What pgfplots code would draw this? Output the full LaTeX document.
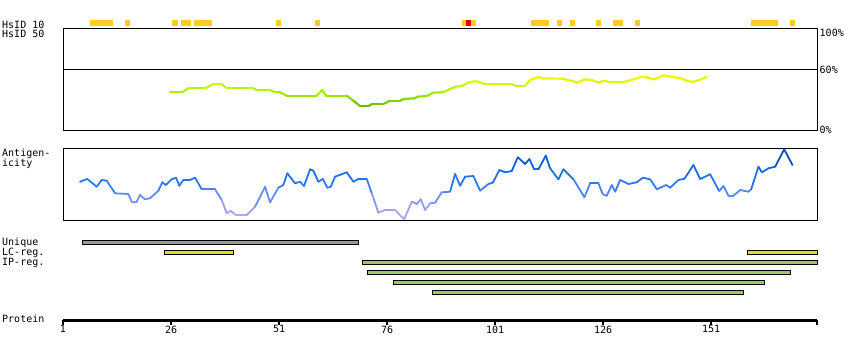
\documentclass[border=0pt]{standalone}
\usepackage{fontspec}
\setmainfont{DejaVu Sans Mono}
\newfontfamily\mono{DejaVu Sans Mono}
\usepackage{pgfplots}
\pgfplotsset{compat=1.18}
\definecolor{hsyellow}{RGB}{255,204,34}
\definecolor{hsred}{RGB}{221,0,0}
\definecolor{ugray}{RGB}{153,153,153}
\definecolor{lcyellow}{RGB}{232,218,48}
\definecolor{ipgreen}{RGB}{160,200,90}
\begin{document}
\begin{tikzpicture}[x=1pt,y=1pt]
\path[use as bounding box] (0pt,0pt) rectangle (850pt,360pt);
\tikzset{lab/.style={anchor=base west, inner sep=0pt, font=\mono\fontsize{10}{12}\selectfont}}
% row labels
\node[lab] at (2pt,331.5pt) {HsID 10};
\node[lab] at (2pt,322.5pt) {HsID 50};
\node[lab] at (2pt,204pt) {Antigen-};
\node[lab] at (2pt,194pt) {icity};
\node[lab] at (2pt,115pt) {Unique};
\node[lab] at (2pt,105pt) {LC-reg.};
\node[lab] at (2pt,95pt) {IP-reg.};
\node[lab] at (2pt,38pt) {Protein};
\node[lab] at (819.5pt,324pt) {100\%};
\node[lab] at (819.5pt,286.5pt) {60\%};
\node[lab] at (819.5pt,227pt) {0\%};

% HsID 10 track
\begin{axis}[at={(63pt,332pt)}, anchor=south west, scale only axis,
  width=754pt, height=14pt, xmin=1, xmax=175.5, ymin=0, ymax=14,
  hide axis, clip=false]
\addplot[line width=6pt, color=hsyellow, unbounded coords=jump] coordinates {
 (7.25,5.5) (12.57,5.5) (nan,nan)
 (15.35,5.5) (16.5,5.5) (nan,nan)
 (26.2,5.5) (27.6,5.5) (nan,nan)
 (28.3,5.5) (30.6,5.5) (nan,nan)
 (31.3,5.5) (35.5,5.5) (nan,nan)
 (50.3,5.5) (51.5,5.5) (nan,nan)
 (59.3,5.5) (60.5,5.5) (nan,nan)
 (93.4,5.5) (96.6,5.5) (nan,nan)
 (109.3,5.5) (113.4,5.5) (nan,nan)
 (115.4,5.5) (116.5,5.5) (nan,nan)
 (118.4,5.5) (119.5,5.5) (nan,nan)
 (124.4,5.5) (125.5,5.5) (nan,nan)
 (128.3,5.5) (130.6,5.5) (nan,nan)
 (133.4,5.5) (134.6,5.5) (nan,nan)
 (160.3,5.5) (166.5,5.5) (nan,nan)
 (169.3,5.5) (170.4,5.5)
};
\addplot[line width=6pt, color=hsred] coordinates {(94.3,5.5) (95.4,5.5)};
\end{axis}

% Conservation (HsID 50) panel
\begin{axis}[at={(63pt,229.7pt)}, anchor=south west, scale only axis,
  width=754pt, height=102pt, xmin=1, xmax=175.5, ymin=0, ymax=100,
  xtick=\empty, ytick=\empty, axis line style={line width=0.9pt},
  colormap={consmap}{rgb255(20pt)=(90,170,0) rgb255(30pt)=(130,215,0)
    rgb255(38pt)=(170,243,0) rgb255(46pt)=(210,252,0) rgb255(52pt)=(245,245,0)
    rgb255(60pt)=(255,238,30)},
  point meta min=20, point meta max=60]
\addplot[black, line width=0.9pt] coordinates {(1,60) (175.5,60)};
\addplot[mesh, point meta=y, line width=2.2pt, line cap=round] coordinates {
 (25.77,37.3) (28.6,37.3) (30.0,41.2) (33.9,41.2) (35.8,45.4) (37.7,45.4)
 (38.9,41.2) (45.0,41.2) (45.8,39.5) (48.9,39.5) (50.1,37.3) (51.2,37.3)
 (52.8,33.9) (59.7,33.9) (61.0,39.5) (61.9,33.9) (66.7,33.9) (68.2,29.0)
 (69.75,23.8) (71.7,23.8) (72.5,25.8) (75.1,25.8) (76.7,29.0) (79.0,29.0)
 (79.8,30.7) (82.5,31.4) (82.9,32.9) (85.2,33.6) (86.7,36.9) (89.0,37.3)
 (91.7,42.7) (93.3,43.4) (94.8,46.7) (96.4,48.3) (97.1,47.6) (98.7,45.1)
 (104.9,45.1) (106.0,43.4) (107.9,43.4) (109.1,49.3) (111.0,52.3) (112.2,50.8)
 (116.8,50.6) (117.6,49.3) (118.8,48.6) (119.9,46.7) (121.8,50.0) (123.4,49.3)
 (124.9,46.7) (126.1,48.6) (127.6,47.4) (130.7,47.4) (131.9,48.6) (133.0,50.0)
 (135.0,52.5) (136.1,52.0) (137.6,50.0) (138.4,51.0) (140.0,53.9) (141.1,53.2)
 (142.3,52.0) (143.8,51.3) (145.0,49.3) (146.5,47.4) (147.7,48.6) (148.8,50.0)
 (150.0,52.5)
};
\end{axis}

% Antigenicity panel
\begin{axis}[at={(63pt,140pt)}, anchor=south west, scale only axis,
  width=754pt, height=72pt, xmin=1, xmax=175.5, ymin=0, ymax=72,
  xtick=\empty, ytick=\empty, axis line style={line width=0.9pt},
  colormap={antmap}{rgb255(0pt)=(190,170,240) rgb255(12pt)=(160,160,245)
    rgb255(25pt)=(100,140,245) rgb255(38pt)=(40,120,240) rgb255(55pt)=(15,100,225)
    rgb255(64pt)=(10,80,180) rgb255(72pt)=(0,60,130)},
  point meta min=0, point meta max=72]
\addplot[mesh, point meta=y, line width=1.8pt, line cap=round] coordinates {
 (4.94,38.3) (6.63,41) (8.80,33.3) (9.96,40) (11.12,39.3) (13.04,26.7)
 (16.12,26) (16.90,18.3) (18.06,18.3) (18.82,25) (19.98,20.7) (21.14,21.7)
 (23.06,29.3) (23.99,37.7) (24.77,35) (26.16,40.7) (27.16,42.3) (27.92,34.3)
 (28.85,40) (30.40,40) (31.56,42.3) (33.11,30.7) (36.19,30.7) (37.74,20)
 (38.89,6.7) (39.82,9.3) (40.98,5) (43.52,5) (45.44,13.3) (47.76,33.3)
 (48.92,17.7) (50.84,32.3) (52.00,35) (52.92,46.7) (54.70,36.7) (55.86,38.3)
 (56.79,34) (58.18,50.7) (58.94,49.3) (60.10,38.3) (61.12,41) (62.18,32.3)
 (62.97,33.3) (63.96,43.3) (66.67,47.7) (68.20,38.3) (69.36,41) (71.30,41)
 (72.46,26.7) (73.99,7.3) (75.54,10) (77.85,10) (79.94,0.7) (81.72,18.3)
 (82.88,16) (83.80,20.7) (84.80,10) (85.95,16.7) (87.11,17.3) (88.66,27.7)
 (90.58,28.3) (91.74,46) (92.90,34.3) (94.06,43.3) (95.98,44) (97.53,29.3)
 (99.45,36) (100.47,37.3) (102.00,50) (103.31,47.7) (104.86,49) (106.25,62.7)
 (107.94,56) (108.94,61) (110.03,50.7) (111.02,50.7) (112.73,64.3) (113.73,51.7)
 (115.65,40.7) (116.81,50.7) (119.13,40.7) (121.67,22.7) (122.99,36.7) (124.91,36.7)
 (125.93,25.7) (126.85,24.3) (128.01,35) (128.78,28.3) (129.94,40) (131.86,36)
 (133.80,37.7) (135.19,42.3) (136.88,40.7) (138.43,30.7) (140.58,35) (141.51,32.3)
 (143.43,40) (144.82,41.3) (146.90,55) (148.45,41) (150.77,45.7) (152.85,29)
 (153.85,34) (155.00,24.3) (156.16,24.3) (157.71,30) (159.63,28.3) (160.26,30.7)
 (161.95,53.3) (162.73,47.7) (164.27,51.7) (165.81,53.3) (167.90,70.7) (169.82,55)
};
\end{axis}

% Feature tracks and protein ruler
\begin{axis}[at={(63pt,40pt)}, anchor=south west, scale only axis,
  width=754pt, height=84pt, xmin=1, xmax=175.5, ymin=-2.75, ymax=5.65,
  axis x line=bottom, axis y line=none,
  x axis line style={line width=3pt,-},
  xtick={1,26,51,76,101,126,151},
  extra x ticks={175.5}, extra x tick labels={},
  extra x tick style={xtick style={line width=1.5pt,black}},
  tick align=outside, major tick length=4.5pt,
  xtick style={line width=1.5pt,black},
  xticklabel style={font=\mono\fontsize{10}{12}\selectfont, inner sep=1pt},
  /pgf/number format/assume math mode=true,
  clip=false]
\addplot[fill=ugray, draw=black, line width=0.9pt] coordinates {(5.47,4.83) (69.4,4.83) (69.4,5.17) (5.47,5.17)} --cycle;
\addplot[fill=lcyellow, draw=black, line width=0.9pt] coordinates {(24.45,3.83) (40.5,3.83) (40.5,4.17) (24.45,4.17)} --cycle;
\addplot[fill=lcyellow, draw=black, line width=0.9pt] coordinates {(159.4,3.83) (175.5,3.83) (175.5,4.17) (159.4,4.17)} --cycle;
\addplot[fill=ipgreen, draw=black, line width=0.9pt] coordinates {(70.3,2.83) (175.5,2.83) (175.5,3.17) (70.3,3.17)} --cycle;
\addplot[fill=ipgreen, draw=black, line width=0.9pt] coordinates {(71.4,1.83) (169.4,1.83) (169.4,2.17) (71.4,2.17)} --cycle;
\addplot[fill=ipgreen, draw=black, line width=0.9pt] coordinates {(77.5,0.83) (163.4,0.83) (163.4,1.17) (77.5,1.17)} --cycle;
\addplot[fill=ipgreen, draw=black, line width=0.9pt] coordinates {(86.5,-0.17) (158.5,-0.17) (158.5,0.17) (86.5,0.17)} --cycle;
\end{axis}
\end{tikzpicture}
\end{document}
